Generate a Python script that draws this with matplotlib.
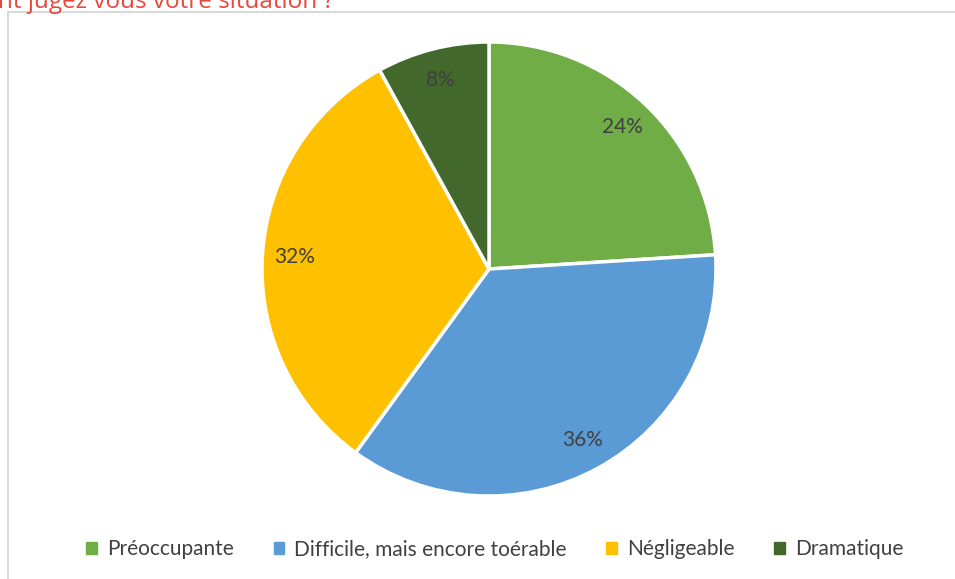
import matplotlib.pyplot as plt
import matplotlib.patches as mpatches

categories = ["Préoccupante", "Difficile, mais encore toérable", "Négligeable", "Dramatique"]
values = [24, 36, 32, 8]
colors = ["#70AD47", "#5B9BD5", "#FFC000", "#43682B"]
title = "Comment jugez vous votre situation ?"

fig = plt.figure(figsize=(9.55, 5.79), dpi=100)

# light frame of the chart area, cut off by the picture on the right and bottom
frame = mpatches.Rectangle((8 / 955, -0.05), 1.1, 1 - 12 / 579 + 0.05,
                           transform=fig.transFigure, fill=False,
                           edgecolor="#D9D9D9", linewidth=1.5)
fig.patches.append(frame)

# title, only partly visible at the top (as in the original screenshot)
fig.text(334 / 955, 1 - 8 / 579, title, ha="right", va="baseline",
         fontsize=17.5, color="#E8473D", family="Open Sans")

cx, cy, r = 489, 269, 227
ax = fig.add_axes([(cx - r) / 955, (579 - cy - r) / 579, 2 * r / 955, 2 * r / 579])
wedges, texts, autotexts = ax.pie(values, colors=colors, startangle=90, counterclock=False,
                                  autopct="%1.0f%%", pctdistance=0.86,
                                  wedgeprops=dict(edgecolor="white", linewidth=2.5),
                                  textprops=dict(color="#404040", fontsize=15, family="Lato"))
ax.set_xlim(-1.0, 1.0)
ax.set_ylim(-1.0, 1.0)

handles = [mpatches.Patch(color=c, label=l) for c, l in zip(colors, categories)]
fig.legend(handles=handles, loc="center", bbox_to_anchor=(495 / 955, 1 - 549 / 579),
           ncol=4, frameon=False, handlelength=0.5, handleheight=0.5,
           handletextpad=0.5, columnspacing=1.9,
           prop=dict(family="Lato", size=15), labelcolor="#404040")

fig.savefig("out.png", dpi=100)
